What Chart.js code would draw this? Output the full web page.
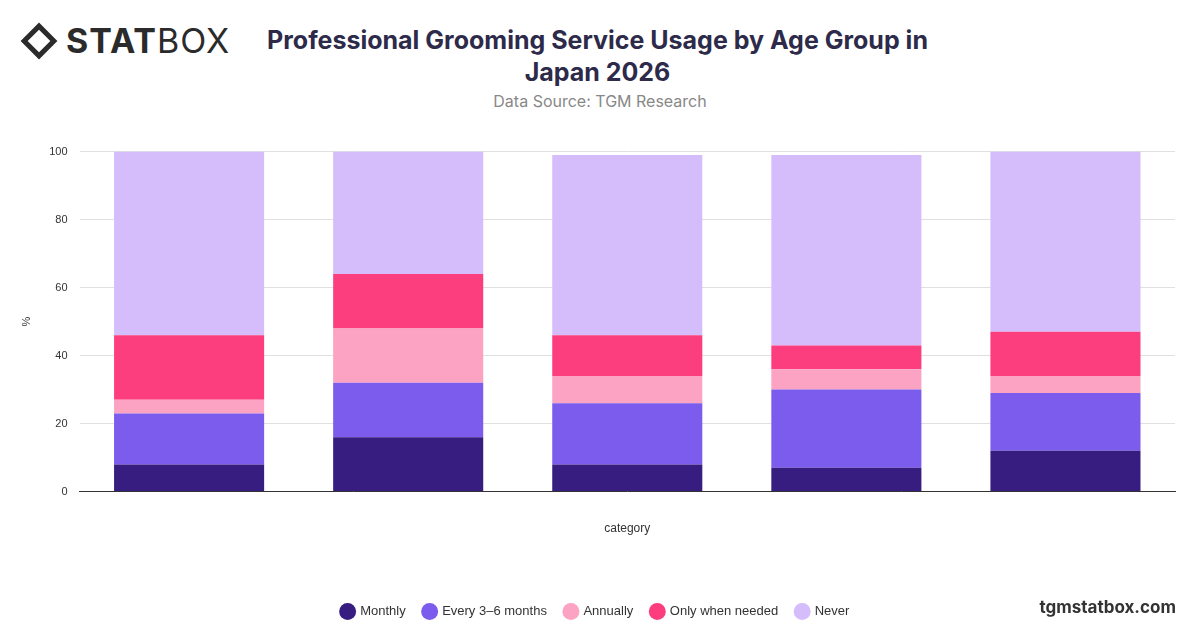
<!DOCTYPE html>
<html><head><meta charset="utf-8">
<script src="https://cdn.jsdelivr.net/npm/chart.js@4/dist/chart.umd.min.js"></script>
<style>
body{margin:0;width:1200px;height:628px;background:#fff;font-family:Inter,"Open Sans",sans-serif;position:relative;overflow:hidden}
#logo{position:absolute;left:26px;top:20px;font-size:34px;color:#2b2b2b;letter-spacing:1px;display:flex;align-items:center}
#logo .d{width:26px;height:26px;border:5px solid #2b2b2b;transform:rotate(45deg);margin-right:14px;box-sizing:border-box}
#title{position:absolute;left:250px;width:695px;top:24px;text-align:center;font-size:25px;font-weight:700;color:#2d2a4a;line-height:32px}
#src{position:absolute;left:0;width:1200px;top:91px;text-align:center;font-size:16px;color:#888}
#foot{position:absolute;right:24px;top:597px;font-size:17px;font-weight:700;color:#333}
#wrap{position:absolute;left:0;top:133px;width:1200px;height:495px}
</style></head><body>
<div id="logo"><div class="d"></div><b>STAT</b>BOX</div>
<div id="title">Professional Grooming Service Usage by Age Group in Japan 2026</div>
<div id="src">Data Source: TGM Research</div>
<div id="wrap"><canvas id="c"></canvas></div>
<div id="foot">tgmstatbox.com</div>
<script>
const categories=["","","","",""];
const monthly=[8,16,8,7,12];
const every36=[15,16,18,23,17];
const annually=[4,16,8,6,5];
const whenNeeded=[19,16,12,7,13];
const never=[54,36,53,56,53];
const names=["Monthly","Every 3–6 months","Annually","Only when needed","Never"];
const colors=["#371d80","#7b5ced","#fca2c3","#fc3e7f","#d5bdfb"];
const series=[monthly,every36,annually,whenNeeded,never];
new Chart(document.getElementById('c'),{type:'bar',
data:{labels:categories,datasets:series.map((d,i)=>({label:names[i],data:d,backgroundColor:colors[i],barPercentage:0.685,categoryPercentage:1}))},
options:{responsive:true,maintainAspectRatio:false,animation:false,
layout:{padding:{left:16,right:25,top:17,bottom:0}},
plugins:{legend:{position:'bottom',labels:{usePointStyle:true,pointStyle:'circle',boxWidth:12,boxHeight:12,padding:18,color:'#333',font:{size:13}}},tooltip:{enabled:false}},
scales:{x:{stacked:true,grid:{display:false},border:{color:'#333'},ticks:{display:false},title:{display:true,text:'category',color:'#333',font:{size:12},padding:{top:22,bottom:51}}},
y:{stacked:true,min:0,max:100,ticks:{stepSize:20,color:'#333',font:{size:11},padding:12},grid:{color:'#e0e0e0',drawTicks:false},border:{display:false},title:{display:true,text:'%',color:'#333',font:{size:11}}}}}});
</script></body></html>
